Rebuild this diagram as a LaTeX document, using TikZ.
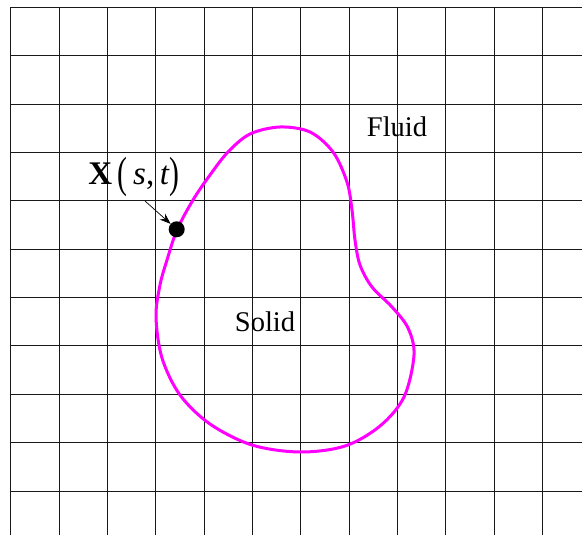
\documentclass[tikz,border=0pt]{standalone}
\usepackage{fontspec}
\setmainfont{Liberation Serif}
\usetikzlibrary{arrows.meta}
\definecolor{magentaline}{RGB}{255,0,255}
\begin{document}
\begin{tikzpicture}[x=1pt,y=-1pt,
  gridline/.style={line width=1pt,black!90},
  boundary/.style={line width=3pt,magentaline},
  lbl/.style={font=\fontsize{28.5}{32}\selectfont,inner sep=0pt,anchor=base},
  biglbl/.style={font=\fontsize{33}{36}\selectfont,inner sep=0pt,anchor=base},
  marker/.style={circle,fill=black,inner sep=0pt,minimum size=16pt},
  pointer/.style={-{Stealth[length=11pt,width=8pt]},line width=0.7pt}]
\useasboundingbox (0,0) rectangle (582,535);
\fill[white] (0,0) rectangle (582,535);
\begin{scope}
\clip (0,0) rectangle (582,535);
\foreach \k in {0,...,11} \draw[gridline] (10.7+48.36*\k,7.3) -- (10.7+48.36*\k,540);
\foreach \k in {0,...,10} \draw[gridline] (10.7,7.3+48.37*\k) -- (590,7.3+48.37*\k);
\end{scope}
\draw[boundary] plot[smooth cycle,tension=0.55] coordinates {
 (177,230) (193,200) (210,175) (228,152) (250,134) (280,127) (310,132) (333,152)
 (347,182) (352,210) (355,240) (360,265) (372,287) (392,307) (408,328) (414,355)
 (404,397) (380,426) (345,446) (300,452) (252,445) (210,424) (180,395) (162,358)
 (156,317) (160,285) (167,260)};
\node[marker] (dot) at (176.7,229.3) {};
\node[biglbl] (xst) at (134,184) {\textbf{X}\,\raisebox{-0.12em}{\scalebox{0.9}[1.32]{(}}\,\textit{s},\,\textit{t}\raisebox{-0.12em}{\scalebox{0.9}[1.32]{)}}};
\coordinate (arrstart) at (145,201);
\draw[pointer] (arrstart) -- (dot);
\node[lbl] (fluid) at (397,136.7) {Fluid};
\node[lbl] (solid) at (265,331.7) {Solid};
\end{tikzpicture}
\end{document}
